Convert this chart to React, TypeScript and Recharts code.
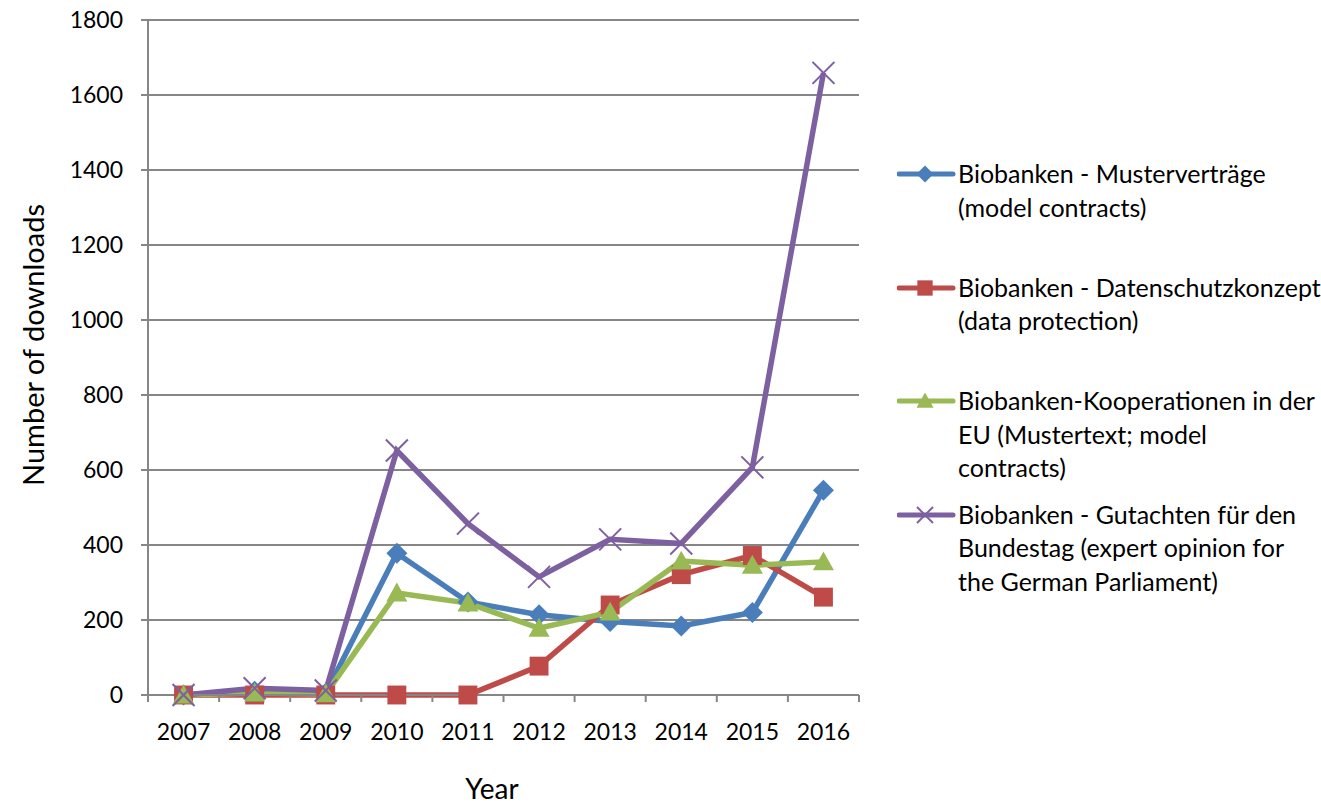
import React from "react";
import { LineChart, Line, XAxis, YAxis, CartesianGrid, Label } from "recharts";

// Downloads per year
const YEARS = ["2007", "2008", "2009", "2010", "2011", "2012", "2013", "2014", "2015", "2016"];
const MUSTERVERTRAEGE = [0, 10, 5, 378, 248, 214, 196, 184, 220, 546];
const DATENSCHUTZ = [0, 0, 0, 0, 0, 77, 240, 321, 372, 261];
const KOOPERATIONEN = [0, 5, 3, 272, 245, 178, 221, 357, 346, 355];
const GUTACHTEN = [0, 18, 12, 652, 457, 315, 415, 404, 607, 1659];
const Y_TICKS = [0, 200, 400, 600, 800, 1000, 1200, 1400, 1600, 1800];

const SERIES = [
  { key: "muster", name: ["Biobanken - Musterverträge", "(model contracts)"], values: MUSTERVERTRAEGE, color: "#4A7EBB", marker: "diamond" },
  { key: "daten", name: ["Biobanken - Datenschutzkonzept", "(data protection)"], values: DATENSCHUTZ, color: "#BE4B48", marker: "square" },
  { key: "koop", name: ["Biobanken-Kooperationen in der", "EU (Mustertext; model", "contracts)"], values: KOOPERATIONEN, color: "#98B954", marker: "triangle" },
  { key: "gut", name: ["Biobanken - Gutachten für den", "Bundestag (expert opinion for", "the German Parliament)"], values: GUTACHTEN, color: "#7D60A0", marker: "x" },
];

const data = YEARS.map((year, i) => {
  const row: Record<string, string | number> = { year };
  SERIES.forEach((s) => (row[s.key] = s.values[i]));
  return row;
});

const FONT = "Lato, 'Open Sans', sans-serif";
const AXIS = "#868686";
const WIDTH = 1321;
const HEIGHT = 805;
const PLOT_LEFT = 148;
const PLOT_RIGHT = 859;
const BAND = (PLOT_RIGHT - PLOT_LEFT) / YEARS.length;

function Marker({ type, cx, cy, color, size }: { type: string; cx: number; cy: number; color: string; size: number }) {
  const h = size / 2;
  if (type === "diamond") {
    return <polygon points={`${cx},${cy - h} ${cx + h},${cy} ${cx},${cy + h} ${cx - h},${cy}`} fill={color} />;
  }
  if (type === "square") {
    const s = size * 0.9;
    return <rect x={cx - s / 2} y={cy - s / 2} width={s} height={s} fill={color} />;
  }
  if (type === "triangle") {
    return <polygon points={`${cx},${cy - h} ${cx + h},${cy + h * 0.8} ${cx - h},${cy + h * 0.8}`} fill={color} />;
  }
  return (
    <g stroke={color} strokeWidth={2}>
      <line x1={cx - h} y1={cy - h} x2={cx + h} y2={cy + h} />
      <line x1={cx - h} y1={cy + h} x2={cx + h} y2={cy - h} />
    </g>
  );
}

function YearTick(props: any) {
  const { x, y, payload, index } = props;
  return (
    <g>
      {index === 0 && <line x1={x - BAND / 2} y1={y} x2={x - BAND / 2} y2={y + 7} stroke={AXIS} strokeWidth={2} />}
      <line x1={x + BAND / 2} y1={y} x2={x + BAND / 2} y2={y + 7} stroke={AXIS} strokeWidth={2} />
      <text x={x} y={y + 36} textAnchor="middle" dominantBaseline="central" fontSize={23} fontFamily={FONT} fill="#000">
        {payload.value}
      </text>
    </g>
  );
}

function Legend() {
  return (
    <div style={{ position: "absolute", left: 897, top: 157, width: 424, fontFamily: FONT, fontSize: 25, color: "#000" }}>
      {SERIES.map((s) => (
        <div key={s.key} style={{ position: "relative", height: 113.5 }}>
          <svg width={60} height={34} style={{ position: "absolute", left: 0, top: 0 }}>
            <line x1={2} y1={17} x2={56} y2={17} stroke={s.color} strokeWidth={5} strokeLinecap="round" />
            <Marker type={s.marker} cx={28} cy={17} color={s.color} size={s.marker === "x" ? 16 : 17} />
          </svg>
          <div style={{ position: "absolute", left: 61, top: 0, lineHeight: "33.5px", whiteSpace: "nowrap" }}>
            {s.name.map((line) => (
              <div key={line}>{line}</div>
            ))}
          </div>
        </div>
      ))}
    </div>
  );
}

export default function App() {
  return (
    <div style={{ position: "absolute", left: 0, top: 0, width: WIDTH, height: HEIGHT, background: "#fff", fontFamily: FONT }}>
      <LineChart width={WIDTH} height={HEIGHT} data={data} margin={{ top: 20, right: WIDTH - PLOT_RIGHT, bottom: 70, left: 68 }}>
        <CartesianGrid vertical={false} stroke={AXIS} strokeWidth={2} />
        <XAxis
          dataKey="year"
          height={40}
          padding={{ left: BAND / 2, right: BAND / 2 }}
          tick={<YearTick />}
          tickLine={false}
          tickSize={0}
          tickMargin={0}
          interval={0}
          axisLine={{ stroke: AXIS, strokeWidth: 2 }}
        >
          <Label
            content={() => (
              <text x={492} y={788} textAnchor="middle" dominantBaseline="central" fontSize={28} fontFamily={FONT} fill="#000">
                Year
              </text>
            )}
          />
        </XAxis>
        <YAxis
          width={80}
          domain={[0, 1800]}
          ticks={Y_TICKS}
          interval={0}
          tickSize={7}
          tickMargin={18}
          tickLine={{ stroke: AXIS, strokeWidth: 2 }}
          axisLine={{ stroke: AXIS, strokeWidth: 2 }}
          tick={{ fontSize: 23, fontFamily: FONT, fill: "#000" }}
        >
          <Label
            content={() => (
              <text
                x={32}
                y={345}
                transform="rotate(-90 32 345)"
                textAnchor="middle"
                dominantBaseline="central"
                fontSize={29}
                fontFamily={FONT}
                fill="#000"
              >
                Number of downloads
              </text>
            )}
          />
        </YAxis>
        {SERIES.map((s) => (
          <Line
            key={s.key}
            dataKey={s.key}
            type="linear"
            stroke={s.color}
            strokeWidth={5.5}
            isAnimationActive={false}
            activeDot={false}
            dot={(p: any) => (
              <Marker key={`${s.key}-${p.index}`} type={s.marker} cx={p.cx} cy={p.cy} color={s.color} size={s.marker === "x" ? 22 : 21} />
            )}
          />
        ))}
      </LineChart>
      <Legend />
    </div>
  );
}
